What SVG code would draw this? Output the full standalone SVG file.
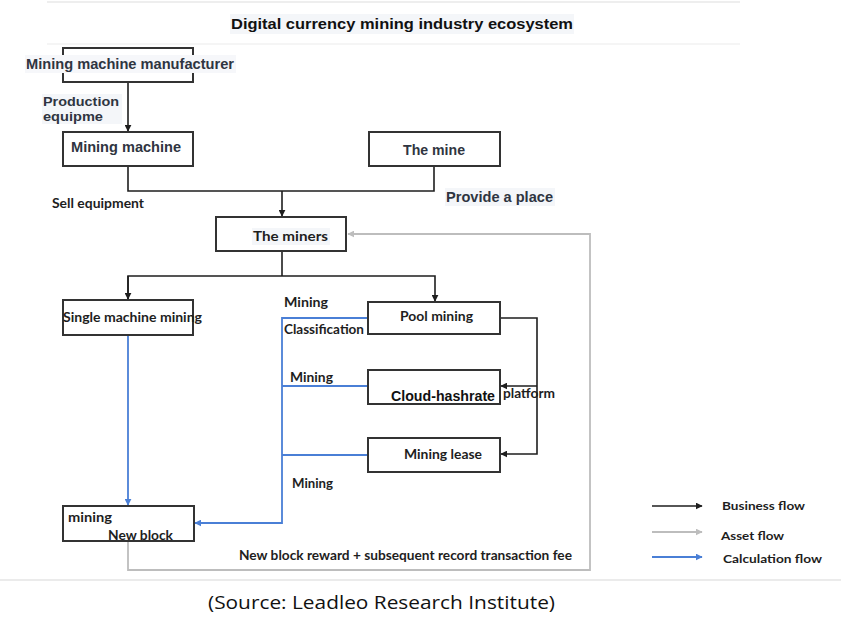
<svg xmlns="http://www.w3.org/2000/svg" width="841" height="626" viewBox="0 0 841 626">
<defs>
<style>
.box{fill:#fff;stroke:#333;stroke-width:2}
.ar{font-family:"Liberation Sans",Arial,sans-serif;font-weight:bold;fill:#2f3541}
.ca{font-family:Lato,"Open Sans",sans-serif;font-weight:bold;fill:#1e1e1e}
.bg{fill:#f4f6f9}
.blk{fill:none;stroke:#1e1e1e;stroke-width:1.6}
.blu{fill:none;stroke:#4a7fd6;stroke-width:1.8}
.gry{fill:none;stroke:#bdbdbd;stroke-width:1.8}
</style>
<marker id="mb" viewBox="0 0 10 10" refX="9" refY="5" markerWidth="7" markerHeight="7" markerUnits="userSpaceOnUse" orient="auto"><path d="M0,0L10,5L0,10z" fill="#1e1e1e"/></marker>
<marker id="mu" viewBox="0 0 10 10" refX="9" refY="5" markerWidth="7" markerHeight="7" markerUnits="userSpaceOnUse" orient="auto"><path d="M0,0L10,5L0,10z" fill="#4a7fd6"/></marker>
<marker id="mg" viewBox="0 0 10 10" refX="9" refY="5" markerWidth="7" markerHeight="7" markerUnits="userSpaceOnUse" orient="auto"><path d="M0,0L10,5L0,10z" fill="#bdbdbd"/></marker>
</defs>
<rect width="841" height="626" fill="#fff"/>
<g id="frame">
<line x1="47" y1="2" x2="740" y2="2" stroke="#eeeeee" stroke-width="2"/>
<line x1="47" y1="44" x2="740" y2="44" stroke="#f5f5f5" stroke-width="2"/>
<line x1="0" y1="580" x2="841" y2="580" stroke="#e4e4e4" stroke-width="1.5"/>
<rect x="230" y="14" width="344" height="20" class="bg"/>
<text x="231" y="29" class="ar" font-size="15" style="fill:#111" textLength="342" lengthAdjust="spacingAndGlyphs">Digital currency mining industry ecosystem</text>
</g>
<g id="connectors">
<line x1="128" y1="82" x2="128" y2="131" class="blk" marker-end="url(#mb)"/>
<polyline points="128,166 128,191 434,191 434,166" class="blk"/>
<line x1="282" y1="191" x2="282" y2="216" class="blk" marker-end="url(#mb)"/>
<line x1="282" y1="251" x2="282" y2="276" class="blk"/>
<polyline points="128,300 128,276 435,276 435,301" class="blk" marker-end="url(#mb)"/>
<line x1="128" y1="276" x2="128" y2="299" class="blk" marker-end="url(#mb)"/>
<polyline points="500,318 537,318 537,454 501,454" class="blk" marker-end="url(#mb)"/>
<line x1="537" y1="386" x2="501" y2="386" class="blk" marker-end="url(#mb)"/>
<line x1="128" y1="335" x2="128" y2="505" class="blu" marker-end="url(#mu)"/>
<polyline points="368,318 282,318 282,523 195,523" class="blu" marker-end="url(#mu)"/>
<line x1="282" y1="386" x2="368" y2="386" class="blu"/>
<line x1="282" y1="455" x2="368" y2="455" class="blu"/>
<polyline points="128,541 128,570 590,570 590,234 348,234" class="gry" marker-end="url(#mg)"/>
</g>
<g id="manufacturer">
<rect x="63" y="48" width="130" height="34" class="box"/>
<rect x="25" y="55" width="211" height="18" fill="#f6f7fa"/>
<text x="26" y="69" class="ar" font-size="14.5" textLength="208" lengthAdjust="spacingAndGlyphs">Mining machine manufacturer</text>
</g>
<g id="production-label">
<rect x="42" y="94" width="80" height="30" class="bg"/>
<text x="43" y="106" class="ar" font-size="13" textLength="76" lengthAdjust="spacingAndGlyphs">Production</text>
<text x="43" y="121" class="ar" font-size="13" textLength="60" lengthAdjust="spacingAndGlyphs">equipme</text>
</g>
<g id="mining-machine">
<rect x="63" y="132" width="130" height="34" class="box"/>
<text x="71" y="152" class="ar" font-size="14" textLength="110" lengthAdjust="spacingAndGlyphs">Mining machine</text>
</g>
<g id="the-mine">
<rect x="369" y="132" width="131" height="34" class="box"/>
<text x="403" y="155" class="ar" font-size="14" textLength="62" lengthAdjust="spacingAndGlyphs">The mine</text>
</g>
<g id="labels">
<text x="52" y="208" class="ca" font-size="13" textLength="92" lengthAdjust="spacingAndGlyphs">Sell equipment</text>
<rect x="445" y="188" width="110" height="18" class="bg"/>
<text x="446" y="202" class="ar" font-size="14" textLength="107" lengthAdjust="spacingAndGlyphs">Provide a place</text>
<text x="284" y="307" class="ca" font-size="12.5" textLength="44" lengthAdjust="spacingAndGlyphs">Mining</text>
<text x="284" y="334" class="ca" font-size="12.5" textLength="80" lengthAdjust="spacingAndGlyphs">Classification</text>
<text x="290" y="382" class="ca" font-size="12.5" textLength="43" lengthAdjust="spacingAndGlyphs">Mining</text>
<text x="292" y="488" class="ca" font-size="12.5" textLength="41" lengthAdjust="spacingAndGlyphs">Mining</text>
<text x="503" y="398" class="ca" font-size="13" textLength="52" lengthAdjust="spacingAndGlyphs">platform</text>
<text x="239" y="560" class="ca" font-size="12.5" textLength="333" lengthAdjust="spacingAndGlyphs">New block reward + subsequent record transaction fee</text>
</g>
<g id="the-miners">
<rect x="216" y="217" width="130" height="34" class="box"/>
<rect x="252" y="228" width="78" height="17" class="bg"/>
<text x="253" y="241" class="ca" font-size="14" textLength="75" lengthAdjust="spacingAndGlyphs">The miners</text>
</g>
<g id="single-machine-mining">
<rect x="63" y="300" width="130" height="35" class="box"/>
<text x="63" y="322" class="ca" font-size="13.5" textLength="139" lengthAdjust="spacingAndGlyphs">Single machine mining</text>
</g>
<g id="pool-mining">
<rect x="368" y="302" width="132" height="32" class="box"/>
<text x="400" y="321" class="ca" font-size="13.5" textLength="73" lengthAdjust="spacingAndGlyphs">Pool mining</text>
</g>
<g id="cloud-hashrate">
<rect x="368" y="370" width="132" height="34" class="box"/>
<text x="391" y="401" class="ar" font-size="14.5" style="fill:#111" textLength="104" lengthAdjust="spacingAndGlyphs">Cloud-hashrate</text>
</g>
<g id="mining-lease">
<rect x="368" y="438" width="132" height="34" class="box"/>
<text x="404" y="459" class="ca" font-size="13.5" textLength="78" lengthAdjust="spacingAndGlyphs">Mining lease</text>
</g>
<g id="new-block">
<rect x="63" y="506" width="131" height="35" class="box"/>
<text x="68" y="522" class="ca" font-size="12.5" textLength="44" lengthAdjust="spacingAndGlyphs">mining</text>
<text x="108" y="540" class="ca" font-size="12.5" textLength="65" lengthAdjust="spacingAndGlyphs">New block</text>
</g>
<g id="legend">
<line x1="652" y1="506" x2="702" y2="506" class="blk" marker-end="url(#mb)"/>
<line x1="652" y1="532" x2="702" y2="532" class="gry" marker-end="url(#mg)"/>
<line x1="652" y1="557" x2="702" y2="557" class="blu" marker-end="url(#mu)"/>
<text x="722" y="510" class="ca" font-size="12" textLength="83" lengthAdjust="spacingAndGlyphs">Business flow</text>
<text x="721" y="540" class="ca" font-size="12" textLength="63" lengthAdjust="spacingAndGlyphs">Asset flow</text>
<text x="723" y="563" class="ca" font-size="12" textLength="99" lengthAdjust="spacingAndGlyphs">Calculation flow</text>
</g>
<g id="source">
<text x="208" y="609" font-family="Open Sans,Lato,sans-serif" font-size="19" fill="#111" textLength="347" lengthAdjust="spacingAndGlyphs">(Source: Leadleo Research Institute)</text>
</g>
</svg>
